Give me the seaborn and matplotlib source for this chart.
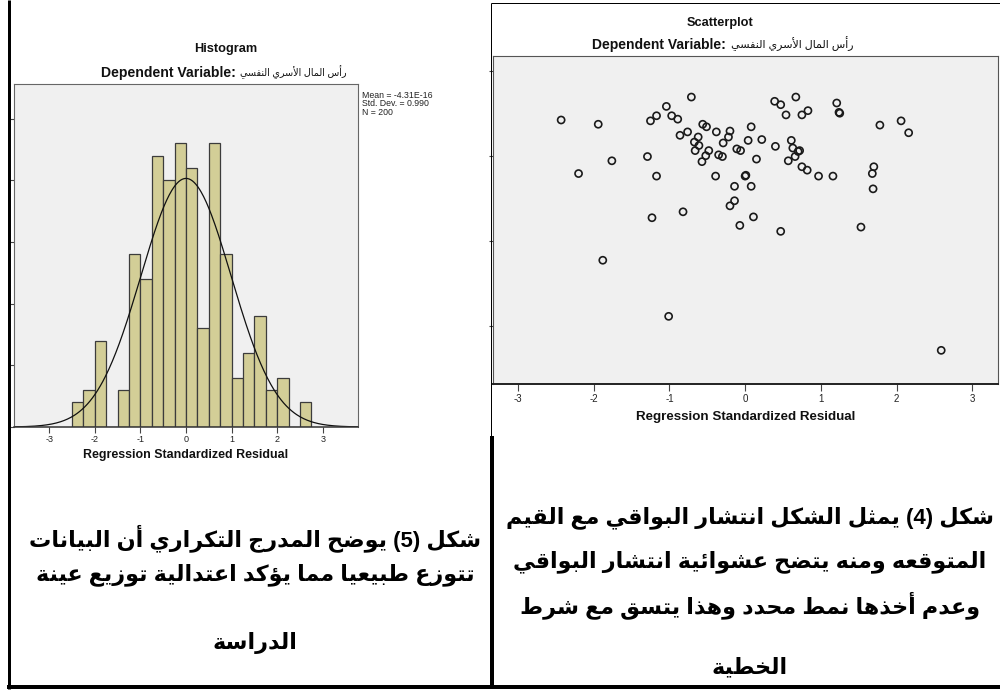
import numpy as np
import matplotlib
matplotlib.use('Agg')
import matplotlib.pyplot as plt
import seaborn as sns

# =========================
# data
# =========================
# histogram: left edge of each 0.25-wide bin and its count (N = 200)
bin_left = [-2.5, -2.25, -2.0, -1.75, -1.5, -1.25, -1.0, -0.75, -0.5, -0.25, 0.0,
            0.25, 0.5, 0.75, 1.0, 1.25, 1.5, 1.75, 2.0, 2.25, 2.5]
bin_counts = [2, 3, 7, 0, 3, 14, 12, 22, 20, 23, 21, 8, 23, 14, 4, 6, 9, 3, 4, 0, 2]
bin_width = 0.25
resid_mean = -4.31e-16
resid_sd = 0.990
resid_n = 200

# scatterplot: standardized residual (x) vs standardized predicted value (y)
sc_resid = [-2.43, -1.94, -2.20, -1.76, -1.29, -1.17, -1.04, -1.17, -1.25, -0.97,
            -0.89, -0.71, -0.76, -0.86, -0.62, -0.67, -0.61, -0.66, -0.48, -0.52,
            -0.57, -0.56, -0.51, -0.38, -0.20, -0.22, -0.29, -0.35, -0.30, -0.11,
            -0.06, 0.04, 0.08, 0.22, 0.15, 0.40, 0.61, 0.63, 0.70, 0.72,
            0.66, 0.57, 0.75, 0.82, 0.97, 1.16, 0.39, 0.47, 0.67, 0.54,
            0.75, 0.83, 1.21, 1.24, 1.25, 1.78, 2.06, 2.16, 1.70, 1.68,
            1.69, -0.39, 0.00, 0.01, -0.14, 0.08, -0.14, -0.20, 0.11, -0.07,
            0.47, -0.82, -1.23, 1.53, -1.88, -1.01, 2.59]
sc_pred = [1.42, 1.37, 0.79, 0.94, 0.99, 0.76, 1.58, 1.47, 1.41, 1.47,
           1.43, 1.69, 1.28, 1.24, 1.22, 1.16, 1.12, 1.06, 1.06, 1.00,
           0.93, 1.37, 1.34, 1.28, 1.29, 1.22, 1.15, 1.01, 0.99, 1.08,
           1.06, 1.18, 1.34, 1.19, 0.96, 1.11, 1.18, 1.09, 1.05, 1.06,
           0.99, 0.94, 0.87, 0.83, 0.76, 0.76, 1.64, 1.60, 1.69, 1.48,
           1.48, 1.53, 1.62, 1.51, 1.50, 1.36, 1.41, 1.27, 0.87, 0.79,
           0.61, 0.76, 0.76, 0.77, 0.64, 0.64, 0.47, 0.41, 0.28, 0.18,
           0.11, 0.34, 0.27, 0.16, -0.23, -0.89, -1.29]

x_ticks = [-3, -2, -1, 0, 1, 2, 3]
hist_yticks = [0, 5, 10, 15, 20, 25]
sc_yticks = [-1, 0, 1, 2]

dep_var = 'رأس المال الأسري النفسي'
caption_left = ['شكل (5) يوضح المدرج التكراري أن البيانات',
                'تتوزع طبيعيا مما يؤكد اعتدالية توزيع عينة',
                'الدراسة']
caption_right = ['شكل (4) يمثل الشكل انتشار البواقي مع القيم',
                 'المتوقعه ومنه يتضح عشوائية انتشار البواقي',
                 'وعدم أخذها نمط محدد وهذا يتسق مع شرط',
                 'الخطية']

# =========================
# small Arabic shaper (matplotlib has no shaping / bidi)
# =========================
FORMS = {
    'ء': (0xFE80, 1), 'آ': (0xFE81, 2), 'أ': (0xFE83, 2), 'ؤ': (0xFE85, 2), 'إ': (0xFE87, 2),
    'ئ': (0xFE89, 4), 'ا': (0xFE8D, 2), 'ب': (0xFE8F, 4), 'ة': (0xFE93, 2), 'ت': (0xFE95, 4),
    'ث': (0xFE99, 4), 'ج': (0xFE9D, 4), 'ح': (0xFEA1, 4), 'خ': (0xFEA5, 4), 'د': (0xFEA9, 2),
    'ذ': (0xFEAB, 2), 'ر': (0xFEAD, 2), 'ز': (0xFEAF, 2), 'س': (0xFEB1, 4), 'ش': (0xFEB5, 4),
    'ص': (0xFEB9, 4), 'ض': (0xFEBD, 4), 'ط': (0xFEC1, 4), 'ظ': (0xFEC5, 4), 'ع': (0xFEC9, 4),
    'غ': (0xFECD, 4), 'ف': (0xFED1, 4), 'ق': (0xFED5, 4), 'ك': (0xFED9, 4), 'ل': (0xFEDD, 4),
    'م': (0xFEE1, 4), 'ن': (0xFEE5, 4), 'ه': (0xFEE9, 4), 'و': (0xFEED, 2), 'ى': (0xFEEF, 2),
    'ي': (0xFEF1, 4),
}
LAM_ALEF = {'آ': 0xFEF5, 'أ': 0xFEF7, 'إ': 0xFEF9, 'ا': 0xFEFB}


def shape_ar(text):
    units = []
    i = 0
    while i < len(text):
        c = text[i]
        if c == 'ل' and i + 1 < len(text) and text[i + 1] in LAM_ALEF:
            units.append(('LA', text[i + 1]))
            i += 2
        else:
            units.append(('C', c))
            i += 1

    def nforms(u):
        if u[0] == 'LA':
            return 2
        return FORMS.get(u[1], (0, 0))[1]

    out = []
    for k, u in enumerate(units):
        n = nforms(u)
        prev_ok = k > 0 and nforms(units[k - 1]) == 4 and n >= 2
        next_ok = n == 4 and k + 1 < len(units) and nforms(units[k + 1]) >= 2
        if u[0] == 'LA':
            out.append(chr(LAM_ALEF[u[1]] + (1 if prev_ok else 0)))
            continue
        if n == 0:
            out.append(u[1])
            continue
        base = FORMS[u[1]][0]
        if n == 1:
            form = 0
        elif prev_ok and next_ok:
            form = 3
        elif next_ok:
            form = 2
        elif prev_ok:
            form = 1
        else:
            form = 0
        out.append(chr(base + form))
    vis = ''.join(reversed(out))
    return vis.translate(str.maketrans('()', ')('))


# =========================
# figure
# =========================
sns.set_theme(style='ticks')
FONTS = ['Liberation Sans', 'DejaVu Sans']
plt.rcParams['font.family'] = FONTS

W, H = 1000, 699
fig = plt.figure(figsize=(W / 100, H / 100), dpi=100)
fig.patch.set_facecolor('white')

# full-figure overlay in pixel coordinates for table lines and texts
bg = fig.add_axes([0, 0, 1, 1], zorder=5)
bg.set_xlim(0, W)
bg.set_ylim(H, 0)
bg.axis('off')
bg.patch.set_alpha(0)


def px_axes(x0, y0, x1, y1):
    return fig.add_axes([x0 / W, 1 - y1 / H, (x1 - x0) / W, (y1 - y0) / H])


GRAY_BG = '#f0f0f0'

# ---- histogram ----
ax_h = px_axes(14, 84, 358, 427)
ax_h.set_facecolor(GRAY_BG)
bin_edges = bin_left + [bin_left[-1] + bin_width]
bin_mid = [b + bin_width / 2 for b in bin_left]
sns.histplot(x=bin_mid, weights=bin_counts, bins=bin_edges, stat='count',
             color='#d3ce97', edgecolor='#3c3c3c', linewidth=0.9, alpha=1, ax=ax_h)
xs = np.linspace(-3.77, 3.77, 400)
curve = resid_n * bin_width * np.exp(-0.5 * ((xs - resid_mean) / resid_sd) ** 2) / (resid_sd * np.sqrt(2 * np.pi))
sns.lineplot(x=xs, y=curve, color='#111111', linewidth=0.9, ax=ax_h)
ax_h.set_xlim(-3.77, 3.77)
ax_h.set_ylim(0, 27.8)
ax_h.set_xticks(x_ticks)
ax_h.set_xticklabels([str(t) for t in x_ticks])
ax_h.set_yticks(hist_yticks)
ax_h.set_yticklabels([])
ax_h.set_xlabel('')
ax_h.set_ylabel('')
ax_h.tick_params(axis='x', length=4, width=0.8, color='#444444', labelsize=6.5,
                 labelcolor='#222222', pad=2)
ax_h.tick_params(axis='y', length=4, width=0.8, color='#444444')
for side, sp in ax_h.spines.items():
    sp.set_visible(True)
    sp.set_color('#666666')
    sp.set_linewidth(0.8)
ax_h.spines['bottom'].set_color('#333333')
ax_h.spines['bottom'].set_linewidth(1.1)

bg.text(226, 49, 'Histogram', ha='center', va='center', fontsize=9.2,
        fontweight='bold', color='#111111')
bg.text(236, 73, 'Dependent Variable:', ha='right', va='center',
        fontsize=10.1, fontweight='bold', color='#111111')
bg.text(240, 72, shape_ar(dep_var), ha='left', va='center',
        fontsize=6.9, color='#111111')
bg.text(186, 455, 'Regression Standardized Residual', ha='center', va='center',
        fontsize=8.9, fontweight='bold', color='#111111')
bg.text(362, 104, 'Mean = -4.31E-16\nStd. Dev. = 0.990\nN = ' + str(resid_n),
        ha='left', va='center', fontsize=6.3, color='#222222', linespacing=0.95)

# ---- scatterplot ----
ax_s = px_axes(493, 56, 998, 384)
ax_s.set_facecolor(GRAY_BG)
sns.scatterplot(x=sc_resid, y=sc_pred, marker='o', s=26, facecolor='none',
                edgecolor='#1a1a1a', linewidth=1.2, ax=ax_s)
ax_s.set_xlim(-3.33, 3.34)
ax_s.set_ylim(-1.686, 2.173)
ax_s.set_xticks(x_ticks)
ax_s.set_xticklabels([str(t) for t in x_ticks])
ax_s.set_yticks(sc_yticks)
ax_s.set_yticklabels([])
ax_s.set_xlabel('')
ax_s.set_ylabel('')
ax_s.tick_params(axis='x', length=5, width=0.8, color='#444444', labelsize=7,
                 labelcolor='#222222', pad=2)
ax_s.tick_params(axis='y', length=3, width=0.8, color='#444444')
for side, sp in ax_s.spines.items():
    sp.set_visible(True)
    sp.set_color('#555555')
    sp.set_linewidth(0.8)
ax_s.spines['bottom'].set_color('#222222')
ax_s.spines['bottom'].set_linewidth(1.4)

bg.text(720, 23, 'Scatterplot', ha='center', va='center', fontsize=9.2,
        fontweight='bold', color='#111111')
bg.text(726, 45, 'Dependent Variable:', ha='right', va='center',
        fontsize=10, fontweight='bold', color='#111111')
bg.text(731, 44, shape_ar(dep_var), ha='left', va='center',
        fontsize=7.9, color='#111111')
bg.text(746, 417, 'Regression Standardized Residual', ha='center', va='center',
        fontsize=9.6, fontweight='bold', color='#111111')

# ---- table lines ----
k = 0.72  # px -> pt
bg.plot([8.5, 8.5], [0, 689], color='black', lw=3 * k, solid_capstyle='butt')
bg.plot([490.7, 490.7], [3, 436], color='black', lw=1 * k, solid_capstyle='butt')
bg.plot([490.7, 1000], [3, 3], color='black', lw=1 * k, solid_capstyle='butt')
bg.plot([492, 492], [436, 689], color='black', lw=4 * k, solid_capstyle='butt')
bg.plot([7, 1000], [687, 687], color='black', lw=4 * k, solid_capstyle='butt')

# ---- captions ----
for line, y in zip(caption_left, [538, 575, 643]):
    bg.text(255, y, shape_ar(line), ha='center', va='center', fontsize=16,
            fontweight='bold', color='black')
for line, y in zip(caption_right, [518, 562, 605, 668]):
    bg.text(750, y, shape_ar(line), ha='center', va='center', fontsize=16,
            fontweight='bold', color='black')

fig.savefig('out.png', dpi=100, facecolor='white')
